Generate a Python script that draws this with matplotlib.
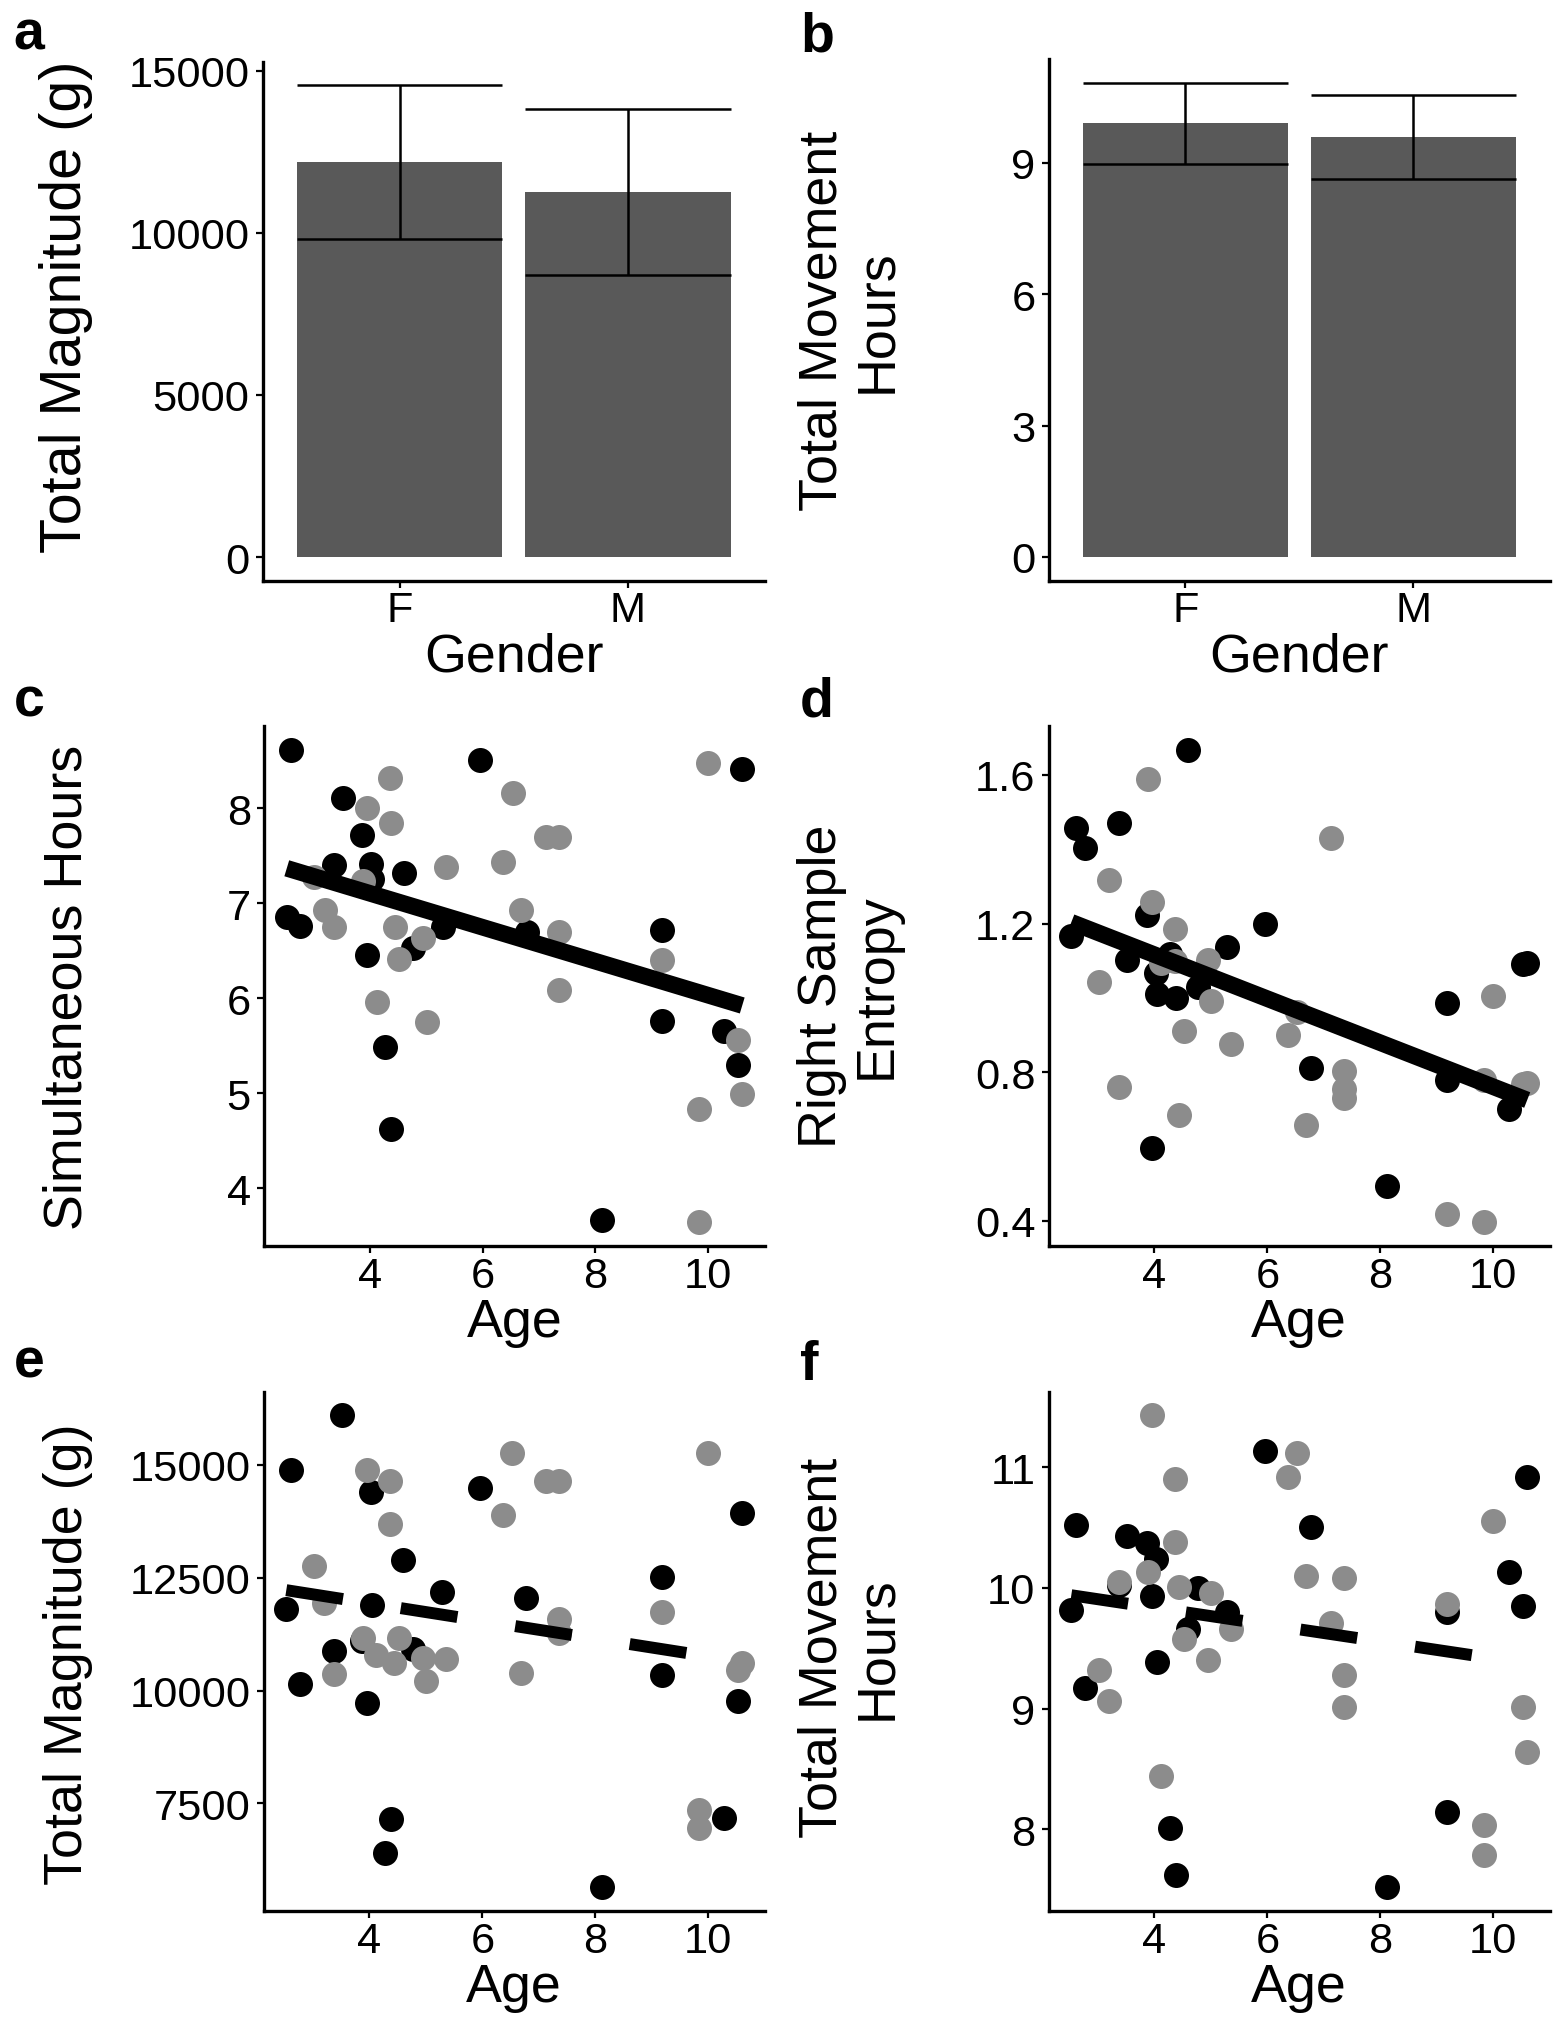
import matplotlib
matplotlib.use("Agg")
import matplotlib.pyplot as plt
import numpy as np


plt.rcParams["font.family"] = ["Liberation Sans", "DejaVu Sans"]

# bar panels (a, b): mean and error per gender
genders = ["F", "M"]
magnitude_mean = np.array([12180, 11265])
magnitude_err = np.array([2375, 2560])
movement_mean = np.array([9.90, 9.58])
movement_err = np.array([0.925, 0.955])

# scatter panels (c-f): one entry per child, black and grey groups
age_black = np.array([2.53, 2.61, 2.77, 3.37, 3.52, 3.87, 3.96, 4.03, 4.04, 4.27, 4.38,
                      4.60, 4.77, 5.29, 5.95, 6.78, 8.11, 9.18, 9.18, 10.27, 10.52, 10.60])
simult_black = np.array([6.86, 8.62, 6.76, 7.40, 8.11, 7.72, 6.46, 7.42, 7.26, 5.49, 4.62,
                         7.32, 6.53, 6.75, 8.51, 6.70, 3.67, 6.72, 5.76, 5.66, 5.30, 8.42])
entropy_black = np.array([1.166, 1.457, 1.404, 1.471, 1.102, 1.224, 0.596, 1.068, 1.011, 1.119, 1.000,
                          1.668, 1.028, 1.138, 1.198, 0.812, 0.494, 0.987, 0.780, 0.701, 1.090, 1.095])
mag_black = np.array([11800, 14880, 10140, 10870, 16100, 11100, 9730, 14390, 11890, 6410, 7150,
                      12890, 10930, 12180, 14490, 12040, 5640, 12520, 10340, 7180, 9760, 13940])
hours_black = np.array([9.82, 10.52, 9.17, 10.02, 10.43, 10.37, 9.93, 10.24, 9.39, 8.01, 7.62,
                        9.66, 10.00, 9.80, 11.13, 10.50, 7.52, 9.80, 8.14, 10.13, 9.85, 10.92])

age_grey = np.array([3.02, 3.20, 3.37, 3.88, 3.96, 4.12, 4.36, 4.37, 4.44, 4.52, 4.95, 5.01, 5.35,
                     6.36, 6.53, 6.68, 7.12, 7.36, 7.36, 7.36, 9.18, 9.84, 9.84, 10.00, 10.53, 10.59])
simult_grey = np.array([7.28, 6.93, 6.75, 7.24, 8.01, 5.96, 8.32, 7.85, 6.75, 6.41, 6.64, 5.75, 7.38,
                        7.44, 8.16, 6.93, 7.70, 7.70, 6.70, 6.09, 6.40, 4.83, 3.64, 8.48, 5.56, 4.99])
entropy_grey = np.array([1.043, 1.316, 0.760, 1.589, 1.258, 1.093, 1.186, 1.100, 0.686, 0.910, 1.102,
                         0.992, 0.876, 0.901, 0.961, 0.659, 1.431, 0.803, 0.754, 0.731, 0.419,
                         0.780, 0.396, 1.006, 0.769, 0.772])
mag_grey = np.array([12760, 11940, 10360, 11170, 14880, 10790, 14640, 13690, 10600, 11170, 10710,
                     10210, 10690, 13890, 15260, 10380, 14640, 14640, 11580, 11270, 11750,
                     7350, 6960, 15260, 10450, 10600])
hours_grey = np.array([9.32, 9.06, 10.05, 10.13, 11.43, 8.44, 10.90, 10.38, 10.01, 9.58, 9.40, 9.96,
                       9.66, 10.92, 11.12, 10.10, 9.71, 10.08, 9.28, 9.01, 9.87, 8.04, 7.79,
                       10.55, 9.01, 8.64])


W, H, DPI = 1557, 2040, 200
fig = plt.figure(figsize=(W / DPI, H / DPI), dpi=DPI)


def rect(l, t, r, b):
    return [l / W, 1 - b / H, (r - l) / W, (b - t) / H]


def expand(lo, hi, f=0.05):
    r = hi - lo
    return lo - f * r, hi + f * r


def style(ax):
    ax.spines["top"].set_visible(False)
    ax.spines["right"].set_visible(False)
    ax.spines["left"].set_linewidth(1.2)
    ax.spines["bottom"].set_linewidth(1.2)
    ax.tick_params(length=2.5, width=0.8, labelsize=15.6, color="black")
    ax.tick_params(axis="x", pad=1.0)
    ax.tick_params(axis="y", pad=2.2)


def ylabel(ax, text, x_px, yc_px, size=19.4):
    ax.set_ylabel(text, fontsize=size, linespacing=1.12)
    ax.yaxis.set_label_coords(x_px / W, 1 - yc_px / H, transform=fig.transFigure)


def bar_panel(ax, means, errs, yticks):
    x = np.arange(1, len(means) + 1)
    lo, hi = means - errs, means + errs
    ax.bar(x, means, width=0.9, color="#595959")
    ax.vlines(x, lo, hi, color="black", lw=0.9)
    ax.hlines(lo, x - 0.45, x + 0.45, color="black", lw=0.9)
    ax.hlines(hi, x - 0.45, x + 0.45, color="black", lw=0.9)
    ax.set_xlim(0.4, len(means) + 0.6)
    ax.set_ylim(*expand(0, hi.max()))
    ax.set_xticks(x)
    ax.set_xticklabels(genders)
    ax.set_yticks(yticks)
    ax.set_xlabel("Gender", fontsize=19.4, labelpad=0.5)
    style(ax)


def scatter_panel(ax, yb, yg, yticks, dashed):
    ax.scatter(age_black, yb, s=81, color="black", lw=0, zorder=2)
    ax.scatter(age_grey, yg, s=81, color="#8c8c8c", lw=0, zorder=2)
    allx = np.concatenate([age_black, age_grey])
    ally = np.concatenate([yb, yg])
    slope, icpt = np.polyfit(allx, ally, 1)
    xs = np.array([allx.min(), allx.max()])
    if dashed:
        ax.plot(xs, icpt + slope * xs, color="black", lw=4.3, dashes=(4.8, 4.9),
                dash_capstyle="butt", zorder=3)
    else:
        ax.plot(xs, icpt + slope * xs, color="black", lw=6, solid_capstyle="butt", zorder=3)
    ax.set_xlim(*expand(allx.min(), allx.max()))
    ax.set_ylim(*expand(ally.min(), ally.max()))
    ax.set_xticks([4, 6, 8, 10])
    ax.set_yticks(yticks)
    ax.set_xlabel("Age", fontsize=19.4, labelpad=0.5)
    style(ax)


ax_a = fig.add_axes(rect(262.5, 62.5, 765, 581.7))
bar_panel(ax_a, magnitude_mean, magnitude_err, [0, 5000, 10000, 15000])
ylabel(ax_a, "Total Magnitude (g)", 93, 307, size=20.7)

ax_b = fig.add_axes(rect(1048.5, 60, 1550, 581.7))
bar_panel(ax_b, movement_mean, movement_err, [0, 3, 6, 9])
ylabel(ax_b, "Total Movement\nHours", 902, 321)

ax_c = fig.add_axes(rect(264, 727, 765, 1247))
scatter_panel(ax_c, simult_black, simult_grey, [4, 5, 6, 7, 8], dashed=False)
ylabel(ax_c, "Simultaneous Hours", 93, 987)

ax_d = fig.add_axes(rect(1048.5, 727, 1550, 1247))
scatter_panel(ax_d, entropy_black, entropy_grey, [0.4, 0.8, 1.2, 1.6], dashed=False)
ax_d.set_yticklabels(["0.4", "0.8", "1.2", "1.6"])
ylabel(ax_d, "Right Sample\nEntropy", 902, 986)

ax_e = fig.add_axes(rect(263.5, 1392.5, 765, 1912))
scatter_panel(ax_e, mag_black, mag_grey, [7500, 10000, 12500, 15000], dashed=True)
ylabel(ax_e, "Total Magnitude (g)", 93, 1654)

ax_f = fig.add_axes(rect(1048.5, 1392.5, 1550, 1912))
scatter_panel(ax_f, hours_black, hours_grey, [8, 9, 10, 11], dashed=True)
ylabel(ax_f, "Total Movement\nHours", 902, 1648)

for letter, x, y in [("a", 13, 50), ("b", 800, 51), ("c", 14, 717),
                     ("d", 800, 717), ("e", 14, 1378), ("f", 800, 1380)]:
    fig.text(x / W, 1 - y / H, letter, fontsize=20, fontweight="bold", va="baseline")

fig.savefig("out.png", dpi=DPI)
plt.close()
